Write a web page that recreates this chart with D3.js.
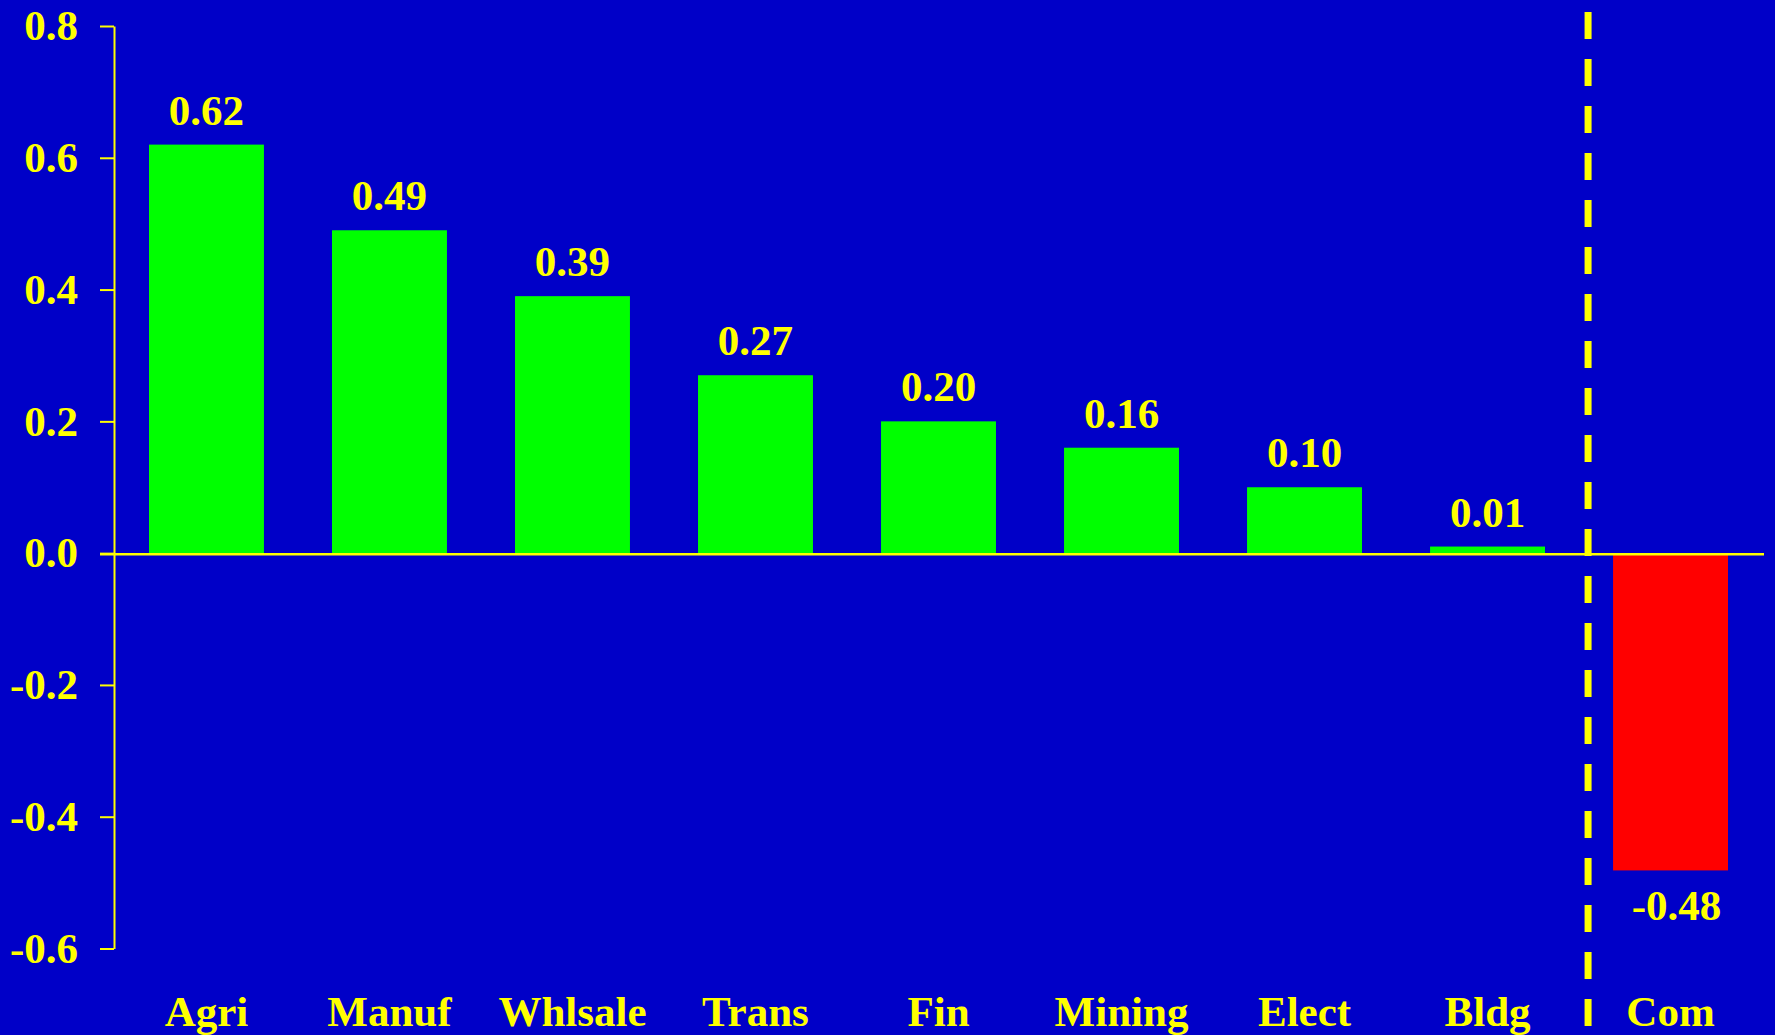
<!DOCTYPE html>
<html>
<head>
<meta charset="utf-8">
<script src="https://cdn.jsdelivr.net/npm/d3@7"></script>
<style>
  html, body { margin: 0; padding: 0; background: #0000c8; overflow: hidden; }
  svg { display: block; }
  text { font-family: "Liberation Serif", "Times New Roman", serif; font-weight: bold; fill: #ffff00; }
</style>
</head>
<body>
<script>
// categories and values
var categories = ["Agri", "Manuf", "Whlsale", "Trans", "Fin", "Mining", "Elect", "Bldg", "Com"];
var values = [0.62, 0.49, 0.39, 0.27, 0.20, 0.16, 0.10, 0.01, -0.48];
var tick_values = [-0.6, -0.4, -0.2, 0.0, 0.2, 0.4, 0.6, 0.8];

var svg_width = 1775;
var svg_height = 1035;
var yellow = "#ffff00";

var svg = d3.select("body")
        .append("svg")
        .attr("width", svg_width)
        .attr("height", svg_height);

svg.append("rect")
   .attr("width", svg_width)
   .attr("height", svg_height)
   .attr("fill", "#0000c8");

var y = d3.scaleLinear()
          .domain([-0.6, 0.8])
          .range([948.5, 26]);

var x = d3.scaleBand()
          .domain(categories)
          .range([149, 1728])
          .paddingInner(0.372)
          .paddingOuter(0);

//bars
svg.selectAll("rect.bar")
   .data(values)
   .enter()
   .append("rect")
   .attr("class", "bar")
   .attr("x", function(d, i) { return x(categories[i]); })
   .attr("y", function(d) { return d >= 0 ? y(d) : y(0) + 1; })
   .attr("width", x.bandwidth())
   .attr("height", function(d) { return Math.abs(y(d) - y(0)); })
   .attr("fill", function(d) { return d >= 0 ? "#00ff00" : "#ff0000"; });

// zero line
svg.append("line")
   .attr("x1", 100)
   .attr("x2", 1764)
   .attr("y1", y(0) + 1)
   .attr("y2", y(0) + 1)
   .attr("stroke", yellow)
   .attr("stroke-width", 2.5);

// y axis
var axis = svg.append("g")
   .attr("transform", "translate(114,0)")
   .call(d3.axisLeft(y)
           .tickValues(tick_values)
           .tickSize(14)
           .tickSizeOuter(0)
           .tickPadding(22)
           .tickFormat(function(d) { return d.toFixed(1); }));
axis.selectAll("path, line").attr("stroke", yellow).attr("stroke-width", 2);
axis.selectAll("text")
    .attr("fill", yellow)
    .style("font-size", "43px")
    .style("font-family", "'Liberation Serif', serif")
    .style("font-weight", "bold");

// dashed separator before Com
var sep_x = x("Com") - 25;
svg.append("line")
   .attr("x1", sep_x)
   .attr("x2", sep_x)
   .attr("y1", 12)
   .attr("y2", svg_height)
   .attr("stroke", yellow)
   .attr("stroke-width", 7)
   .attr("stroke-dasharray", "27,20");

// value labels
svg.selectAll("text.val")
   .data(values)
   .enter()
   .append("text")
   .attr("class", "val")
   .text(function(d) { return d.toFixed(2); })
   .attr("x", function(d, i) { return x(categories[i]) + x.bandwidth() / 2 + (d < 0 ? 6 : 0); })
   .attr("y", function(d) { return d >= 0 ? y(d) - 20 : y(d) + 51; })
   .attr("text-anchor", "middle")
   .attr("font-size", "43px");

// category labels
svg.selectAll("text.cat")
   .data(categories)
   .enter()
   .append("text")
   .attr("class", "cat")
   .text(function(d) { return d; })
   .attr("x", function(d) { return x(d) + x.bandwidth() / 2; })
   .attr("y", 1026)
   .attr("text-anchor", "middle")
   .attr("font-size", "43px");
</script>
</body>
</html>
